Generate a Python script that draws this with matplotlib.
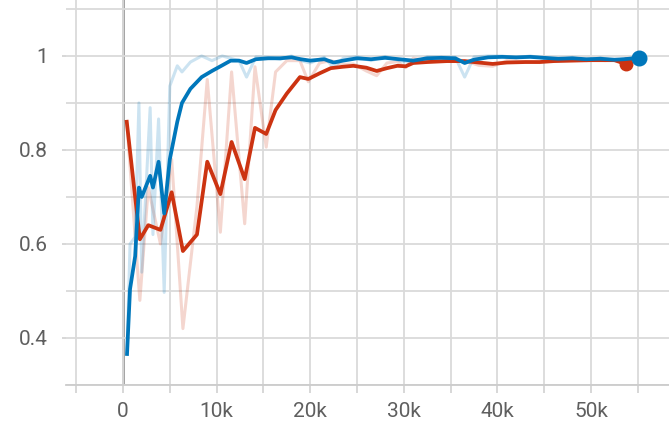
import numpy as np
import matplotlib
matplotlib.use("Agg")
import matplotlib.pyplot as plt
from matplotlib.ticker import MultipleLocator, FuncFormatter

# steps in thousands
red_steps = [0.4, 1.8, 2.7, 4.0, 5.2, 6.4, 7.9, 9.0, 10.4, 11.6, 13.0, 14.1, 15.3, 16.3, 17.5,
             18.9, 19.8, 21.0, 22.2, 23.5, 24.6, 26.0, 27.1, 28.2, 29.3, 30.2, 31.0, 32.5, 34.6,
             36.5, 38.0, 39.5, 41.0, 43.0, 44.5, 46.0, 48.0, 50.0, 51.5, 52.5, 53.7]
red_smooth = [0.86, 0.61, 0.64, 0.63, 0.71, 0.585, 0.62, 0.775, 0.706, 0.817, 0.738, 0.847, 0.834,
              0.885, 0.92, 0.955, 0.951, 0.963, 0.974, 0.977, 0.979, 0.975, 0.968, 0.974, 0.979,
              0.978, 0.985, 0.987, 0.989, 0.989, 0.986, 0.983, 0.986, 0.987, 0.987, 0.989, 0.990,
              0.991, 0.991, 0.991, 0.983]
red_raw = [0.86, 0.48, 0.72, 0.60, 0.78, 0.42, 0.68, 0.95, 0.625, 0.966, 0.643, 0.977, 0.806,
           0.966, 0.99, 0.99, 0.945, 0.985, 0.99, 0.982, 0.983, 0.968, 0.958, 0.985, 0.988,
           0.975, 0.995, 0.99, 0.992, 0.99, 0.98, 0.978, 0.99, 0.988, 0.986, 0.992, 0.992,
           0.993, 0.99, 0.992, 0.983]

blue_steps = [0.43, 0.75, 1.3, 1.7, 2.0, 2.9, 3.2, 3.8, 4.4, 5.0, 5.8, 6.3, 7.2, 8.4, 9.5, 10.6,
              11.5, 12.4, 13.2, 14.2, 15.5, 16.8, 18.0, 19.0, 20.0, 21.5, 22.5, 23.5, 25.0, 26.5,
              28.0, 29.5, 31.0, 32.5, 34.0, 35.5, 36.5, 37.5, 39.0, 40.5, 42.0, 43.5, 45.0, 46.5,
              48.0, 49.5, 51.0, 52.5, 53.5, 55.1]
blue_smooth = [0.366, 0.504, 0.574, 0.72, 0.70, 0.745, 0.72, 0.775, 0.665, 0.78, 0.86, 0.90,
               0.93, 0.955, 0.968, 0.98,
               0.99, 0.99, 0.985, 0.993, 0.995, 0.995, 0.997, 0.993, 0.99, 0.993,
               0.986, 0.99, 0.995, 0.993, 0.996, 0.993, 0.99, 0.995, 0.996, 0.995,
               0.985, 0.992, 0.997, 0.998, 0.997, 0.998, 0.996, 0.994, 0.995, 0.993,
               0.994, 0.992, 0.993, 0.996]
blue_raw = [0.366, 0.60, 0.615, 0.90, 0.54, 0.89, 0.62, 0.866, 0.497, 0.936, 0.979, 0.966,
            0.987, 1.0, 0.99, 1.0,
            0.995, 0.99, 0.955, 0.998, 0.997, 0.993, 1.0, 0.99, 0.985, 0.997,
            0.975, 0.995, 0.998, 0.99, 0.999, 0.99, 0.985, 0.998, 0.998, 0.997,
            0.955, 0.998, 1.0, 1.0, 0.996, 1.0, 0.995, 0.992, 0.997, 0.99,
            0.996, 0.99, 0.994, 0.996]

RED = "#cc3311"
BLUE = "#0077bb"

plt.rcParams['font.family'] = ['Roboto', 'DejaVu Sans']

fig = plt.figure(figsize=(6.69, 4.28), dpi=100)
ax = fig.add_axes([66 / 669, 43 / 428, 603 / 669, 385 / 428])

rs = np.array(red_steps) * 1000
bs = np.array(blue_steps) * 1000

ax.plot(rs, red_raw, color=RED, lw=2.2, alpha=0.2, zorder=3)
ax.plot(bs, blue_raw, color=BLUE, lw=2.2, alpha=0.2, zorder=3)
ax.plot(rs, red_smooth, color=RED, lw=2.7, zorder=4)
ax.plot(bs, blue_smooth, color=BLUE, lw=2.7, zorder=5)
ax.plot(rs[-1], red_smooth[-1], 'o', color=RED, ms=9, zorder=4)
ax.plot(bs[-1], blue_smooth[-1], 'o', color=BLUE, ms=10.5, zorder=5)

ax.set_xlim(-6090, 58330)
ax.set_ylim(0.3, 1.119)

ax.xaxis.set_major_locator(MultipleLocator(10000))
ax.xaxis.set_minor_locator(MultipleLocator(5000))
ax.yaxis.set_major_locator(MultipleLocator(0.2))
ax.yaxis.set_minor_locator(MultipleLocator(0.1))
ax.xaxis.set_major_formatter(FuncFormatter(lambda v, p: "0" if v == 0 else f"{int(v / 1000)}k"))
ax.yaxis.set_major_formatter(FuncFormatter(lambda v, p: "1" if abs(v - 1) < 1e-6 else f"{v:.1f}"))

ax.grid(True, which='both', color='#dadada', lw=1.3, zorder=0)
ax.axvline(0, color='#9a9a9a', lw=2, zorder=1)

for s in ['top', 'right', 'left']:
    ax.spines[s].set_visible(False)
ax.spines['bottom'].set_color('#cccccc')
ax.spines['bottom'].set_linewidth(1.3)

ax.tick_params(axis='x', which='both', length=6, width=1.3, color='#d4d4d4',
               labelsize=15, labelcolor='#5f5f5f', pad=6)
ax.tick_params(axis='y', which='major', length=3, width=1.3, color='#d4d4d4',
               labelsize=15, labelcolor='#5f5f5f', pad=10)
ax.tick_params(axis='y', which='minor', length=0)

fig.savefig("out.png", dpi=100)
